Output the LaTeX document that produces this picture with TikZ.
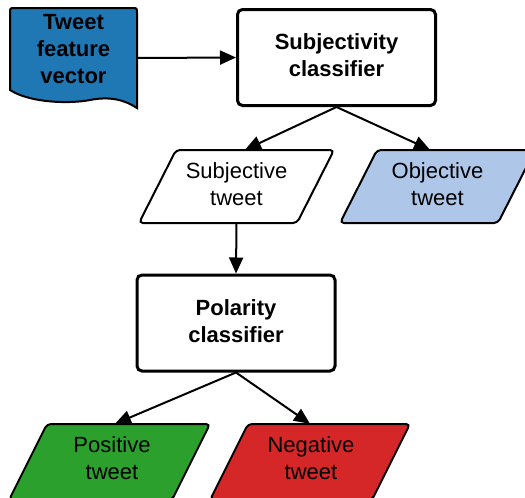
\documentclass[tikz,border=0pt]{standalone}
\usepackage{fontspec}
\setmainfont{Liberation Sans}
\usetikzlibrary{arrows.meta,calc}
\definecolor{docblue}{HTML}{1F77B4}
\definecolor{objblue}{HTML}{AEC7E8}
\definecolor{posgreen}{HTML}{2CA02C}
\definecolor{negred}{HTML}{D62728}
\begin{document}
\begin{tikzpicture}[x=1pt,y=-1pt,
  txt/.style={font=\fontsize{22}{27}\selectfont, align=center, inner sep=0pt},
  bold/.style={font=\bfseries\fontsize{22}{27}\selectfont, align=center, inner sep=0pt},
  area/.style={inner sep=0pt, minimum width=150pt, minimum height=73pt},
  cls/.style={draw, line width=3pt, rounded corners=5pt, minimum width=198pt, minimum height=96pt, inner sep=0pt},
  para/.style={draw, line width=2pt, rounded corners=4pt},
  arr/.style={line width=2pt, -{Triangle[length=16pt,width=14pt]}}]
\useasboundingbox (0,0) rectangle (525,498);
\clip (0,0) rectangle (525,498);

% document shape
\draw[fill=docblue, line width=2pt] (10,90) -- (10,13) .. controls (10,8) .. (15,8) -- (132,8) .. controls (137,8) .. (137,13) -- (137,108)
  .. controls (125,100) and (110,96) .. (90,100) .. controls (70,104) and (30,103) .. (10,90) -- cycle;
\node[inner sep=0pt, minimum width=127pt, minimum height=100pt] (doc) at (73.5,58) {};
\node[bold] (doctext) at (73.5,49) {Tweet\\feature\\vector};

% classifiers
\node[cls] (subj) at (336.5,57.5) {};
\node[bold] (subjtext) at (336.5,55.5) {Subjectivity\\classifier};
\node[cls] (pol) at (236,323) {};
\node[bold] (poltext) at (236,321) {Polarity\\classifier};

% parallelograms
\draw[para, fill=white] (176,150) -- (334,150) -- (297,223) -- (139,223) -- cycle;
\draw[para, fill=objblue] (377,150) -- (535,150) -- (498,223) -- (340,223) -- cycle;
\draw[para, fill=posgreen] (47,424) -- (210,424) -- (172,500) -- (9,500) -- cycle;
\draw[para, fill=negred] (248,424) -- (410,424) -- (372,500) -- (210,500) -- cycle;

\node[area] (sub) at (236.5,186.5) {};
\node[txt] (subtext) at (236.5,184.5) {Subjective\\tweet};
\node[area] (obj) at (437.5,186.5) {};
\node[txt] (objtext) at (437.5,184.5) {Objective\\tweet};
\node[area] (pos) at (112,460.5) {};
\node[txt] (postext) at (112,458.5) {Positive\\tweet};
\node[area] (neg) at (311,460.5) {};
\node[txt] (negtext) at (311,458.5) {Negative\\tweet};

% connectors
\draw[arr] (doc.east) -- (subj.west);
\draw[arr] (subj.south) -- ([xshift=8.5pt]sub.north);
\draw[arr] (subj.south) -- ([xshift=-7.5pt]obj.north);
\draw[arr] (sub.south) -- (pol.north);
\draw[arr] (pol.south) -- ([xshift=3pt]pos.north);
\draw[arr] (pol.south) -- ([xshift=-1pt]neg.north);
\end{tikzpicture}
\end{document}
